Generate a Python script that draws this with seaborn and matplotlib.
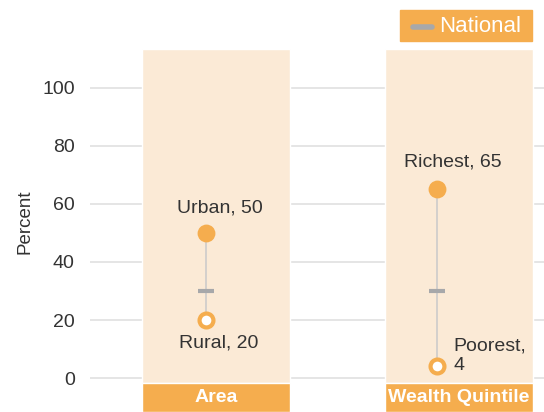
import matplotlib
matplotlib.use("Agg")
import matplotlib.pyplot as plt
import seaborn as sns
import pandas as pd
from matplotlib.patches import Rectangle
from matplotlib.lines import Line2D

# data
groups = ["Area", "Wealth Quintile"]
high_labels = ["Urban", "Richest"]
high_values = [50, 65]
low_labels = ["Rural", "Poorest"]
low_values = [20, 4]
national = [30, 30]
y_ticks = [0, 20, 40, 60, 80, 100]

ORANGE = "#F5AD4E"
PANEL = "#FBEAD6"
GRAY = "#A7A8AA"
LINE = "#C9C9C9"
TEXT = "#333333"

sns.set_theme(style="white")
plt.rcParams["font.family"] = ["Liberation Sans", "DejaVu Sans"]

fig = plt.figure(figsize=(5.44, 4.12), dpi=100)
ax = fig.add_axes([90 / 544, 0, 1 - 90 / 544, 1])

pos = list(range(len(groups)))
# panels sit slightly right of the dot column
panel_x = [p + off for p, off in zip(pos, [0.043, 0.095])]
ax.set_xlim(-0.502, 1.463)
ax.set_ylim(-11.7, 130.3)

# gridlines
for t in y_ticks:
    ax.axhline(t, color="#E3E3E3", lw=1.3, zorder=0)

# background panels and label bands
ax.bar(panel_x, [113.4 + 1.7] * 2, bottom=-1.7, width=0.641, color=PANEL, zorder=1)
ax.bar(panel_x, [10] * 2, bottom=-11.7, width=0.641, color=ORANGE, zorder=1)
for p, g in zip(panel_x, groups):
    ax.text(p, -6.7, g, ha="center", va="center", color="white",
            fontsize=14, fontweight="bold", zorder=5)

# connecting lines
for p, hi, lo in zip(pos, high_values, low_values):
    ax.plot([p, p], [lo, hi], color=LINE, lw=1.1, zorder=2)

df_hi = pd.DataFrame({"x": pos, "y": high_values})
df_lo = pd.DataFrame({"x": pos, "y": low_values})
df_nat = pd.DataFrame({"x": pos, "y": national})

sns.scatterplot(data=df_nat, x="x", y="y", ax=ax, marker="_", s=120,
                color=GRAY, linewidth=3, zorder=3, legend=False)
sns.scatterplot(data=df_hi, x="x", y="y", ax=ax, s=165, color=ORANGE,
                edgecolor=ORANGE, linewidth=0, zorder=4, legend=False)
sns.scatterplot(data=df_lo, x="x", y="y", ax=ax, s=100, color="white",
                edgecolor=ORANGE, linewidth=3, zorder=4, legend=False)

# annotations
ax.text(pos[0] + 0.06, high_values[0] + 8.7, f"{high_labels[0]}, {high_values[0]}",
        ha="center", va="center", fontsize=14, color=TEXT, zorder=5)
ax.text(pos[0] + 0.056, low_values[0] - 8.0, f"{low_labels[0]}, {low_values[0]}",
        ha="center", va="center", fontsize=14, color=TEXT, zorder=5)
ax.text(pos[1] + 0.069, high_values[1] + 9.3, f"{high_labels[1]}, {high_values[1]}",
        ha="center", va="center", fontsize=14, color=TEXT, zorder=5)
ax.text(pos[1] + 0.07, low_values[1] + 3.8, f"{low_labels[1]},\n{low_values[1]}",
        ha="left", va="center", fontsize=14, color=TEXT, zorder=5,
        linespacing=1.2)

ax.set_xticks([])
ax.set_yticks(y_ticks)
ax.set_yticklabels([str(t) for t in y_ticks], fontsize=14, color=TEXT)
ax.tick_params(axis="y", length=0, pad=11)
ax.set_xlabel("")
ax.set_ylabel("")
for s in ax.spines.values():
    s.set_visible(False)
ax.patch.set_alpha(0)

fig.text(25 / 544, 1 - 222 / 412, "Percent", rotation=90, ha="center",
         va="center", fontsize=13.5, color=TEXT)

# legend box
fig.patches.append(Rectangle((400 / 544, 1 - 41 / 412), 132 / 544, 31 / 412,
                             transform=fig.transFigure, color=ORANGE, zorder=0))
fig.lines.append(Line2D([413 / 544, 432 / 544], [1 - 27 / 412] * 2,
                        transform=fig.transFigure, color=GRAY, lw=4,
                        solid_capstyle="round"))
fig.text(439 / 544, 1 - 27 / 412, "National", ha="left", va="center",
         fontsize=16, color="white")

fig.savefig("out.png", dpi=100)
